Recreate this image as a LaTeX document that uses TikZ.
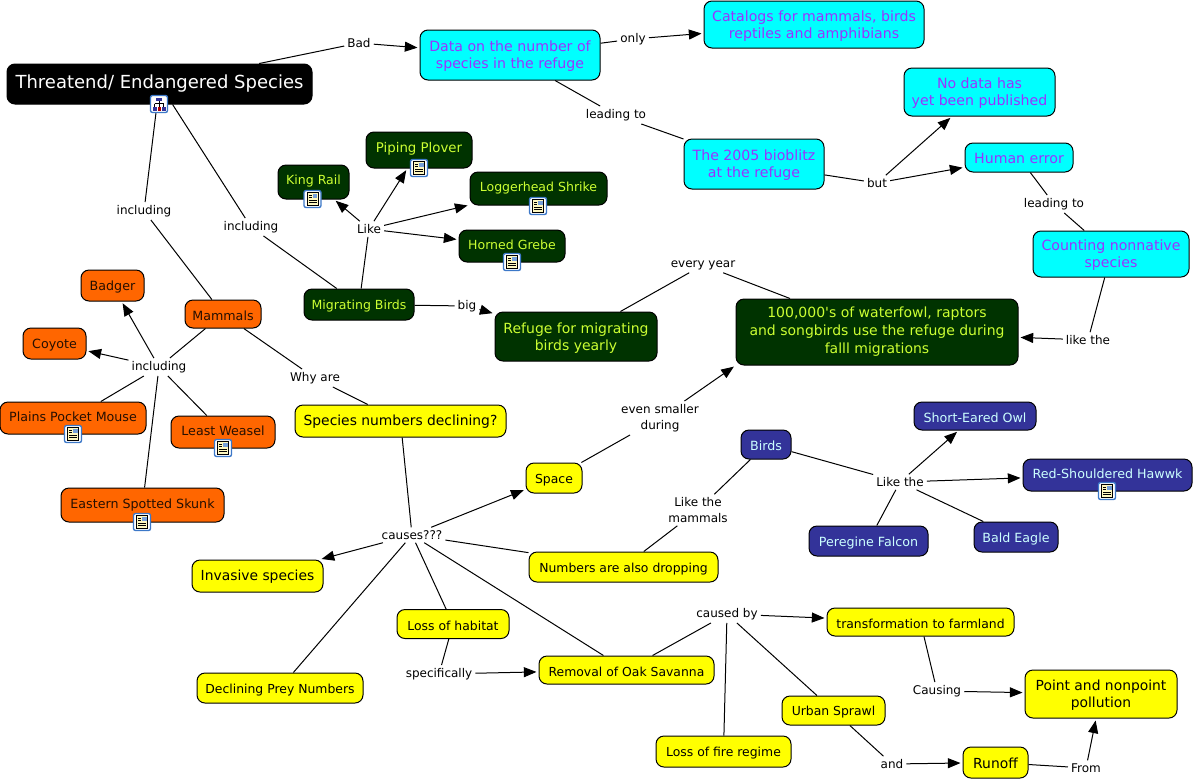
\documentclass[tikz,border=0pt]{standalone}
\usepackage{fontspec}
\setmainfont{DejaVu Sans}
\usetikzlibrary{arrows.meta}
\definecolor{cyanbg}{HTML}{00FFFF}
\definecolor{cyantxt}{HTML}{9933FF}
\definecolor{greenbg}{HTML}{003300}
\definecolor{greentxt}{HTML}{CCFF33}
\definecolor{orangebg}{HTML}{FF6600}
\definecolor{navybg}{HTML}{333399}
\definecolor{navytxt}{HTML}{CCFFFF}
\definecolor{yellowbg}{HTML}{FFFF00}
\definecolor{iconedge}{HTML}{3C78C8}
\definecolor{iconpage}{HTML}{FFF8C0}
\newcommand{\topstrut}{\rule{0pt}{10pt}}

\begin{document}
\begin{tikzpicture}[x=0.75pt,y=-0.75pt,
    sz/.style 2 args={minimum width=#1*0.75pt, minimum height=#2*0.75pt},
    concept/.style={rectangle, rounded corners=6pt, draw=black, line width=0.75pt, inner sep=0pt, align=center, execute at begin node={\rule{0pt}{9.6pt}}},
    rootbox/.style={concept, fill=black, text=white, font=\fontsize{13.5}{16}\selectfont},
    cyanbox/.style={concept, fill=cyanbg, text=cyantxt, font=\fontsize{10.6}{13}\selectfont},
    greenbox/.style={concept, fill=greenbg, text=greentxt, font=\fontsize{9.4}{13}\selectfont},
    orangebox/.style={concept, fill=orangebg, text=black!85!orangebg, font=\fontsize{9.5}{13}\selectfont},
    navybox/.style={concept, fill=navybg, text=navytxt, font=\fontsize{9.5}{13}\selectfont},
    yellowbox/.style={concept, fill=yellowbg, text=black, font=\fontsize{9.3}{13}\selectfont},
    bigtext/.style={font=\fontsize{10.4}{13}\selectfont},
    withicon/.style={execute at end node={\rule[-5pt]{0pt}{0pt}}},
    raised/.style={execute at end node={\rule[-5.6pt]{0pt}{0pt}}},
    linkword/.style={inner sep=2pt, yshift=-0.75pt, align=center, font=\fontsize{9}{12}\selectfont},
    arr/.style={-{Triangle[length=9.5pt,width=7.5pt]}, shorten >=1.5pt},
    every path/.append style={line width=0.75pt},
    docicon/.pic={
      \draw[iconedge, fill=white, rounded corners=1.5pt, line width=1pt] (-8.5,-8.5) rectangle (8.5,8.5);
      \draw[black, fill=iconpage, line width=0.7pt] (-5.5,-6.5) rectangle (5.5,6.5);
      \fill[iconedge!70] (0,-5.5) rectangle (4.5,-1);
      \draw[black, line width=0.6pt] (-4,-4) -- (-1,-4) (-4,-2) -- (-1,-2) (-4,1) -- (4,1) (-4,3.5) -- (4,3.5);
    },
    mapicon/.pic={
      \draw[iconedge, fill=white, rounded corners=1.5pt, line width=1pt] (-8.5,-8.5) rectangle (8.5,8.5);
      \fill[navybg] (-3,-6.5) rectangle (3,-3);
      \draw[black, line width=0.5pt] (0,-3) -- (0,3) (-4.5,-0.5) -- (4.5,-0.5) (-4.5,-0.5) -- (-4.5,3) (4.5,-0.5) -- (4.5,3);
      \fill[navybg] (-6.5,3) rectangle (-2.5,6.5);
      \fill[red!70!black] (-1.5,3) rectangle (1.5,6.5);
      \fill[navybg] (2.5,3) rectangle (6.5,6.5);
    },
]
\useasboundingbox (0,0) rectangle (1194,779);

%Nodes
\node[rootbox,sz={305}{40}] (root) at (159.5,84) {Threatend/ Endangered Species};

\node[cyanbox,sz={180}{50}] (data) at (510,55) {\topstrut Data on the number of\\species in the refuge};
\node[cyanbox,sz={220}{47}] (catalogs) at (814,24.5) {\topstrut Catalogs for mammals, birds\\reptiles and amphibians};
\node[cyanbox,sz={151}{48}] (nodata) at (979.5,92) {\topstrut No data has\\yet been published};
\node[cyanbox,sz={108}{29}] (human) at (1019,157.5) {Human error};
\node[cyanbox,sz={140}{50}] (bioblitz) at (754,164) {\topstrut The 2005 bioblitz\\at the refuge};
\node[cyanbox,sz={156}{46}] (counting) at (1111,254) {\topstrut Counting nonnative\\species};

\node[greenbox,raised,sz={106}{36},font=\fontsize{10}{13}\selectfont] (plover) at (419,150) {Piping Plover};
\node[greenbox,raised,sz={71}{34}] (rail) at (313.5,182) {King Rail};
\node[greenbox,raised,sz={137}{33}] (shrike) at (538.5,188.5) {Loggerhead Shrike};
\node[greenbox,withicon,sz={106}{32}] (grebe) at (512,246) {Horned Grebe};
\node[greenbox,sz={110}{31}] (birds) at (359,304.5) {Migrating Birds};
\node[greenbox,sz={162}{49},font=\fontsize{10.5}{13}\selectfont] (refuge) at (576,336.5) {\topstrut Refuge for migrating\\birds yearly};
\node[greenbox,sz={282}{66},font=\fontsize{10.5}{13.5}\selectfont] (waterfowl) at (877,332) {100,000\textquotesingle s of waterfowl, raptors\\and songbirds use the refuge during\\falll migrations};

\node[orangebox,sz={63}{31}] (badger) at (112.5,285.5) {Badger};
\node[orangebox,sz={63}{31}] (coyote) at (54.5,343.5) {Coyote};
\node[orangebox,sz={76}{28}] (mammals) at (223,314) {Mammals};
\node[orangebox,withicon,sz={146}{32}] (mouse) at (73,418) {Plains Pocket Mouse};
\node[orangebox,withicon,sz={104}{32}] (weasel) at (223,432) {Least Weasel};
\node[orangebox,withicon,sz={163}{34}] (skunk) at (142.5,505) {Eastern Spotted Skunk};

\node[yellowbox,bigtext,sz={211}{32}] (species) at (400.5,421) {Species numbers declining?};
\node[yellowbox,sz={56}{30}] (space) at (554,478) {Space};
\node[yellowbox,bigtext,sz={131}{32}] (invasive) at (257.5,576) {Invasive species};
\node[yellowbox,sz={189}{30}] (dropping) at (623.5,567) {Numbers are also dropping};
\node[yellowbox,sz={112}{29}] (habitat) at (453,624) {Loss of habitat};
\node[yellowbox,sz={166}{30}] (prey) at (280,688) {Declining Prey Numbers};
\node[yellowbox,sz={175}{28}] (savanna) at (626.5,670) {Removal of Oak Savanna};
\node[yellowbox,sz={135}{31}] (fire) at (723.5,751.5) {Loss of fire regime};
\node[yellowbox,sz={103}{29}] (sprawl) at (833.5,710.5) {Urban Sprawl};
\node[yellowbox,sz={187}{28}] (farmland) at (920.5,622) {transformation to farmland};
\node[yellowbox,bigtext,sz={152}{48}] (pollution) at (1101,694) {\topstrut Point and nonpoint\\pollution};
\node[yellowbox,bigtext,sz={65}{31}] (runoff) at (995.5,762.5) {Runoff};

\node[navybox,sz={50}{29}] (bbirds) at (766,444.5) {Birds};
\node[navybox,sz={122}{28}] (owl) at (975,416) {Short-Eared Owl};
\node[navybox,withicon,sz={169}{32}] (hawk) at (1107.5,475) {Red-Shouldered Hawwk};
\node[navybox,sz={119}{30}] (falcon) at (868.5,541) {Peregine Falcon};
\node[navybox,sz={84}{30}] (eagle) at (1016,537) {Bald Eagle};

%Link words
\node[linkword] (bad) at (359,42) {Bad};
\node[linkword] (only) at (633,38) {only};
\node[linkword] (lead1) at (616,114) {leading to};
\node[linkword] (but) at (877,182) {but};
\node[linkword] (lead2) at (1054,203) {leading to};
\node[linkword] (every) at (703,264) {every year};
\node[linkword] (likethe1) at (1088,339) {like the};
\node[linkword] (incl1) at (144,210) {including};
\node[linkword] (incl2) at (251,226) {including};
\node[linkword] (like) at (369,228) {Like};
\node[linkword] (big) at (467,305) {big};
\node[linkword] (incl3) at (159,366) {including};
\node[linkword] (why) at (315,377) {Why are};
\node[linkword] (smaller) at (660,417) {even smaller\\during};
\node[linkword] (likemam) at (698,509) {Like the\\mammals};
\node[linkword] (likethe2) at (900,481) {Like the};
\node[linkword] (causes) at (412,534) {causes???};
\node[linkword] (specific) at (439,673) {specifically};
\node[linkword] (caused) at (727,613) {caused by};
\node[linkword] (causing) at (937,690) {Causing};
\node[linkword] (andw) at (892,763) {and};
\node[linkword] (fromw) at (1086,767) {From};

%Lines
\draw (root) -- (bad);
\draw[arr] (bad) -- (data);
\draw (data) -- (only);
\draw[arr] (only) -- (catalogs);
\draw (data) -- (lead1);
\draw (lead1) -- (bioblitz);
\draw (bioblitz) -- (but);
\draw[arr] (but) -- (nodata);
\draw[arr] (but) -- (human);
\draw (human) -- (lead2);
\draw (lead2) -- (counting);
\draw (counting) -- (likethe1);
\draw[arr] (likethe1) -- (waterfowl);
\draw (refuge) -- (every);
\draw (every) -- (waterfowl);

\draw (root) -- (incl1);
\draw (incl1) -- (mammals);
\draw (root) -- (incl2);
\draw (incl2) -- (birds);

\draw (birds) -- (like);
\draw[arr] (like) -- (plover);
\draw[arr] (like) -- (rail);
\draw[arr] (like) -- (shrike);
\draw[arr] (like) -- (grebe);
\draw (birds) -- (big);
\draw[arr] (big) -- (refuge);

\draw (mammals) -- (incl3);
\draw[arr] (incl3) -- (badger);
\draw[arr] (incl3) -- (coyote);
\draw (incl3) -- (mouse);
\draw (incl3) -- (weasel);
\draw (incl3) -- (skunk);
\draw (mammals) -- (why);
\draw (why) -- (species);

\draw (species) -- (causes);
\draw[arr] (causes) -- (space);
\draw[arr] (causes) -- (invasive);
\draw (causes) -- (dropping);
\draw (causes) -- (habitat);
\draw (causes) -- (prey);
\draw (causes) -- (savanna);
\draw (space) -- (smaller);
\draw[arr] (smaller) -- (waterfowl.south west);

\draw (dropping) -- (likemam);
\draw (likemam) -- (bbirds);
\draw (bbirds) -- (likethe2);
\draw[arr] (likethe2) -- (owl);
\draw[arr] (likethe2) -- (hawk);
\draw (likethe2) -- (falcon);
\draw (likethe2) -- (eagle);

\draw (habitat) -- (specific);
\draw[arr] (specific) -- (savanna);
\draw (savanna) -- (caused);
\draw[arr] (caused) -- (farmland);
\draw (caused) -- (fire);
\draw (caused) -- (sprawl);
\draw (farmland) -- (causing);
\draw[arr] (causing) -- (pollution);
\draw (sprawl) -- (andw);
\draw[arr] (andw) -- (runoff);
\draw (runoff) -- (fromw);
\draw[arr] (fromw) -- (pollution);

%Icons
\pic at (159,104) {mapicon};
\pic at (312.5,199) {docicon};
\pic at (419,168) {docicon};
\pic at (538,206) {docicon};
\pic at (512,262) {docicon};
\pic at (73,434) {docicon};
\pic at (223,448) {docicon};
\pic at (142,522) {docicon};
\pic at (1107,491) {docicon};
\end{tikzpicture}
\end{document}
